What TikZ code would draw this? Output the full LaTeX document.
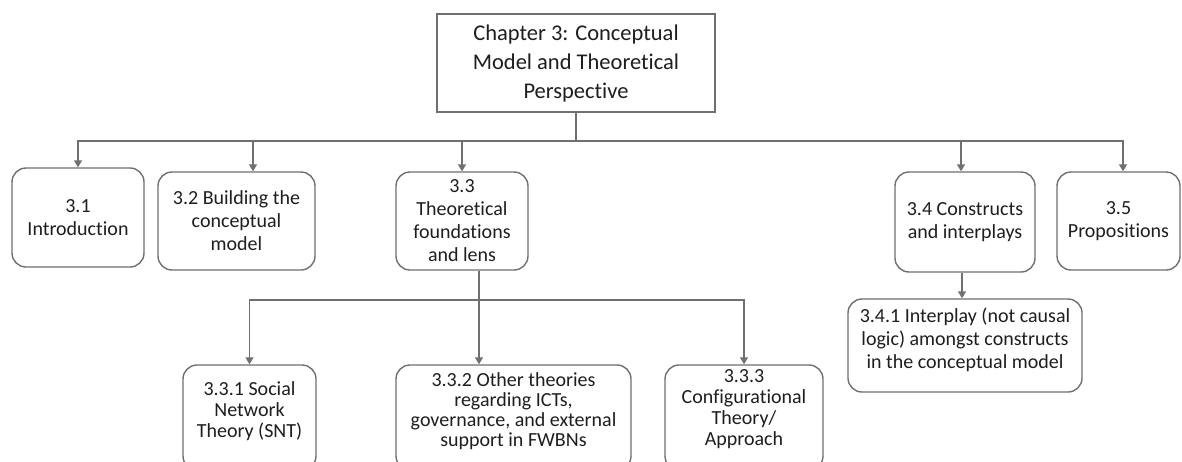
\documentclass[tikz,border=0pt]{standalone}
\usepackage{fontspec}
\setmainfont{Carlito}[Ligatures=NoCommon]
\usetikzlibrary{arrows.meta}
\definecolor{lc}{HTML}{707070}
\definecolor{tc}{HTML}{1E1E1E}
\begin{document}
\begin{tikzpicture}[x=1pt,y=-1pt,
  boxfont/.style={font=\fontsize{20}{23}\selectfont, text=tc, align=center},
  lowfont/.style={font=\fontsize{20}{21}\selectfont, text=tc, align=center},
  box/.style={draw=lc, line width=1.4pt, rounded corners=14pt, inner sep=0pt, boxfont},
  topbox/.style={draw=lc, line width=1.4pt, inner sep=0pt, align=center, text=tc, font=\fontsize{22.5}{29}\selectfont},
  conn/.style={draw=lc, line width=1.4pt, -{Triangle[width=8pt,length=7pt]}},
  plainline/.style={draw=lc, line width=1.4pt}]
\useasboundingbox (0,0) rectangle (1182,461);
\clip (0,0) rectangle (1182,461);
\fill[white] (0,0) rectangle (1182,461);

\node[topbox, minimum width=278pt, minimum height=98pt] (top) at (576,63) {Chapter 3: Conceptual\\Model and Theoretical\\Perspective};

\node[box, minimum width=132pt, minimum height=99pt] (s1) at (78,217.5) {3.1\\Introduction};
\node[box, minimum width=157pt, minimum height=98pt] (s2) at (236.5,221) {3.2 Building the\\conceptual\\model};
\node[box, minimum width=132pt, minimum height=98pt] (s3) at (462,221) {3.3\\Theoretical\\foundations\\and lens};
\node[box, minimum width=140pt, minimum height=100pt] (s4) at (965,222) {3.4 Constructs\\and interplays};
\node[box, minimum width=123pt, minimum height=98pt] (s5) at (1118.5,221) {3.5\\Propositions};
\node[box, minimum width=234pt, minimum height=93pt,
  label={[boxfont, yshift=6pt]center:{3.4.1 Interplay (not causal\\logic) amongst constructs\\in the conceptual model}}] (s41) at (965,345.5) {};

\node[box, minimum width=133pt, minimum height=105pt,
  label={[lowfont, yshift=6.5pt]center:{3.3.1 Social\\Network\\Theory (SNT)}}] (s331) at (249.5,417.5) {};
\node[box, minimum width=235pt, minimum height=105pt,
  label={[font=\fontsize{20}{19.8}\selectfont, text=tc, align=center, yshift=6.5pt]center:{3.3.2 Other theories\\regarding ICTs,\\governance, and external\\support in FWBNs}}] (s332) at (513.5,417.5) {};
\node[box, minimum width=158pt, minimum height=105pt,
  label={[lowfont, yshift=8.5pt]center:{3.3.3\\Configurational\\Theory/\\Approach}}] (s333) at (744,417.5) {};

\coordinate (b1) at (576,141);
\coordinate (b2) at (479,300);

\draw[plainline] (top.south) -- (b1);
\draw[conn] (b1) -| (s1.north);
\draw[conn] (b1) -| ([xshift=16.5pt]s2.north);
\draw[conn] (b1) -| (s3.north);
\draw[conn] (b1) -| ([xshift=-4pt]s4.north);
\draw[conn] (b1) -| ([xshift=4.5pt]s5.north);
\draw[conn] ([xshift=-3pt]s4.south) -- ([xshift=-3pt]s41.north);

\draw[plainline] ([xshift=17pt]s3.south) -- (b2);
\draw[conn] (b2) -| (s331.north);
\draw[conn] (b2) -- (b2 |- s332.north);
\draw[conn] (b2) -| (s333.north);
\end{tikzpicture}
\end{document}
